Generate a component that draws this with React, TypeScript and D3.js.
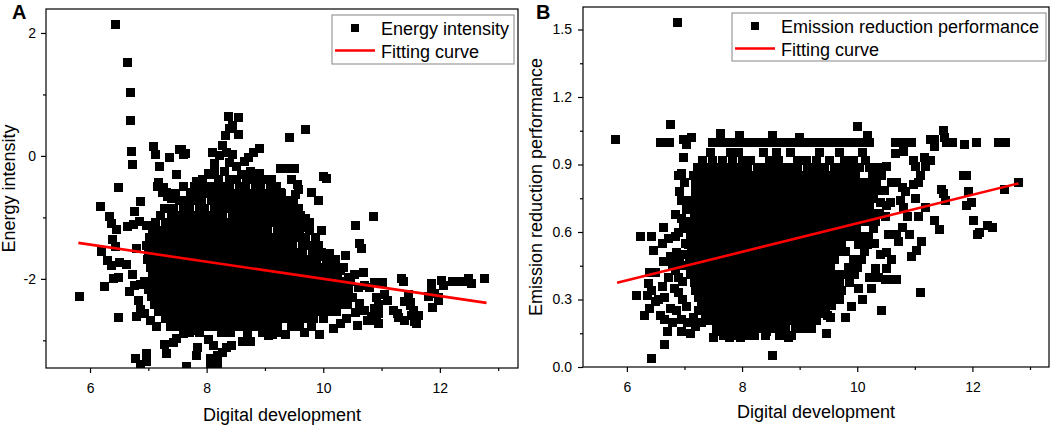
import React, { useEffect, useRef } from 'react';
import * as d3 from 'd3';

type Pt = [number, number];
type Row = [number, number[]];

const FONT = '"Liberation Sans", Arial, Helvetica, sans-serif';

// ---- Panel A: energy intensity ----
const energyScatter: Pt[] = [
 [6.43, 2.13], [6.65, 1.52], [6.7, 1.03], [6.69, 0.58], [6.71, 0.07], [6.73, -0.14], [6.48, -0.52], [6.18, -0.83], [6.86, -0.74], [6.76, -0.9],
 [6.34, -0.99], [6.36, -1.1], [6.46, -1.2], [6.65, -1.15], [6.74, -1.11], [6.85, -1.06], [6.97, -1.14], [6.39, -1.36], [6.43, -1.48], [6.2, -1.56],
 [6.3, -1.7], [6.37, -1.78], [6.51, -1.74], [6.63, -1.77], [6.41, -2.0], [6.49, -1.98], [6.24, -2.12], [5.82, -2.28], [6.48, -2.63], [6.68, -2.2],
 [6.76, -2.11], [6.86, -2.09], [6.93, -2.04], [6.72, -1.93], [6.8, -1.5], [6.83, -2.35], [6.86, -2.5], [6.79, -2.61], [6.94, -2.56], [7.03, -2.67],
 [7.14, -2.78], [6.78, -3.3], [6.97, -3.21], [6.97, -3.34], [6.87, -3.39], [7.31, -3.21], [7.66, -3.43], [7.84, -3.12], [7.83, -3.25], [8.07, -3.29],
 [8.18, -3.24], [8.19, -3.37], [8.07, -3.42], [7.49, -2.97], [7.6, -2.89], [7.74, -2.84], [8.04, -2.99], [8.12, -3.09], [8.27, -3.2], [8.42, -3.09],
 [8.62, -3.02], [8.76, -3.02], [8.34, -3.11], [9.13, -2.9], [9.06, -2.92], [9.36, -2.9], [9.67, -2.87], [9.94, -2.9], [7.27, -3.06], [7.44, -3.03],
 [10.59, -2.76], [10.92, -2.68], [10.95, -2.56], [11.29, -2.63], [11.4, -2.68], [11.6, -2.73], [11.63, -2.6], [11.54, -2.52], [11.49, -2.39], [11.34, -2.0],
 [11.37, -2.05], [11.86, -2.18], [11.8, -2.29], [11.88, -2.46], [11.97, -2.3], [11.86, -2.08], [12.03, -2.03], [12.06, -2.1], [12.22, -2.05], [12.31, -2.05],
 [12.39, -2.05], [12.49, -2.0], [12.54, -2.07], [12.77, -2.0], [10.86, -0.98], [10.56, -1.14], [10.63, -1.43], [10.65, -1.51], [10.38, -1.62], [10.69, -1.89],
 [9.7, 0.43], [9.42, 0.3], [10.01, -0.34], [10.05, -0.36], [9.79, -0.6], [9.92, -0.73], [9.97, -1.21], [9.37, -0.2], [9.26, -0.2], [9.5, -0.2],
 [9.45, -0.39], [9.55, -0.47], [9.58, -0.55], [9.52, -0.62], [9.27, -0.6], [9.43, -0.73], [9.39, -0.88], [9.7, -1.02], [9.76, -1.09], [9.65, -1.17],
 [9.91, -1.45], [9.86, -1.56], [9.93, -1.64], [10.11, -1.58], [10.09, -1.81], [10.2, -1.78], [10.29, -1.87], [10.43, -1.97], [10.6, -2.14], [10.71, -2.11],
 [10.79, -2.14], [10.88, -2.06], [11.02, -2.06], [10.91, -2.3], [10.94, -2.41], [10.88, -2.49], [10.82, -2.62], [10.76, -2.68], [10.95, -2.72], [11.05, -2.25],
 [11.11, -2.36], [11.2, -2.52], [11.28, -2.57], [11.46, -2.26], [11.4, -2.37], [11.49, -2.44], [11.52, -2.59], [11.57, -2.69], [11.91, -2.24], [11.97, -2.35],
 [10.5, -2.3], [10.62, -2.4], [10.55, -2.55], [10.4, -2.65], [10.3, -2.72], [10.18, -2.8], [10.7, -2.52],
 [8.91, 0.12], [8.8, 0.05], [8.71, -0.03], [8.65, -0.09], [8.52, -0.17], [8.38, 0.64], [8.54, 0.62], [8.45, 0.5], [8.55, 0.35], [8.39, 0.44],
 [8.32, 0.33], [8.27, 0.17], [8.34, 0.06], [8.45, 0.03], [8.4, -0.1], [8.22, 0.0], [8.1, 0.05], [8.13, -0.12], [8.04, -0.29], [8.14, -0.23],
 [8.3, -0.26], [8.6, -0.3], [8.75, -0.25], [8.9, -0.28], [7.54, 0.1], [7.63, 0.04], [7.48, -0.31], [7.37, -0.02], [7.2, -0.18], [7.09, 0.16],
 [7.12, 0.03], [7.15, -0.5], [7.24, -0.59], [7.33, -0.66], [7.4, -0.7], [7.6, -0.5], [7.72, -0.6], [7.82, -0.42], [7.88, -0.46], [8.08, -0.31],
 [7.18, -0.43], [7.26, -0.51], [7.31, -0.6], [7.57, 0.1], [7.61, 0.03],
];

// dense core, one row per value of energy intensity
const energyRows: Row[] = [
 [-0.38, [7.93, 8.21, 8.4, 8.52, 8.69, 8.8, 8.96, 9.11]],
 [-0.5, [7.61, 7.79, 8.01, 8.12, 8.28, 8.39, 8.56, 8.66, 8.83, 8.93, 9.09, 9.2]],
 [-0.61, [7.46, 7.81, 7.96, 8.07, 8.22, 8.34, 8.48, 8.59, 8.75, 8.85, 9.01, 9.11, 9.29]],
 [-0.73, [7.53, 7.67, 7.81, 7.92, 8.08, 8.18, 8.34, 8.45, 8.59, 8.7, 8.86, 8.96, 9.11, 9.23, 9.38, 9.49]],
 [-0.85, [7.28, 7.44, 7.61, 7.71, 7.87, 7.97, 8.13, 8.24, 8.38, 8.49, 8.64, 8.76, 8.9, 9.01, 9.16, 9.28, 9.44, 9.57]],
 [-0.97, [7.21, 7.39, 7.5, 7.65, 7.77, 7.91, 8.03, 8.17, 8.28, 8.44, 8.54, 8.69, 8.8, 8.96, 9.06, 9.21, 9.32, 9.48, 9.61]],
 [-1.09, [7.13, 7.29, 7.44, 7.55, 7.71, 7.81, 7.96, 8.08, 8.22, 8.33, 8.48, 8.59, 8.75, 8.85, 9.0, 9.11, 9.27, 9.38, 9.53, 9.66]],
 [-1.21, [7.07, 7.23, 7.38, 7.49, 7.64, 7.76, 7.91, 8.01, 8.16, 8.27, 8.43, 8.53, 8.68, 8.8, 8.94, 9.05, 9.21, 9.32, 9.47, 9.59, 9.77]],
 [-1.33, [7.02, 7.18, 7.3, 7.45, 7.57, 7.71, 7.83, 7.98, 8.09, 8.24, 8.35, 8.5, 8.61, 8.76, 8.87, 9.02, 9.13, 9.28, 9.4, 9.56, 9.69, 9.87]],
 [-1.45, [6.97, 7.12, 7.27, 7.39, 7.54, 7.65, 7.8, 7.91, 8.06, 8.17, 8.32, 8.44, 8.58, 8.7, 8.84, 8.96, 9.11, 9.22, 9.37, 9.48, 9.64, 9.78]],
 [-1.57, [7.0, 7.16, 7.28, 7.43, 7.55, 7.69, 7.82, 7.95, 8.07, 8.21, 8.33, 8.47, 8.6, 8.73, 8.86, 9.0, 9.12, 9.26, 9.39, 9.52, 9.65, 9.81, 9.97]],
 [-1.69, [6.98, 7.11, 7.26, 7.38, 7.53, 7.64, 7.79, 7.9, 8.05, 8.17, 8.31, 8.43, 8.58, 8.69, 8.84, 8.95, 9.1, 9.21, 9.36, 9.48, 9.62, 9.75, 9.89, 10.06, 10.21]],
 [-1.81, [7.03, 7.16, 7.31, 7.43, 7.58, 7.69, 7.84, 7.95, 8.1, 8.22, 8.36, 8.48, 8.62, 8.74, 8.88, 9.0, 9.14, 9.26, 9.4, 9.52, 9.66, 9.78, 9.93, 10.23, 10.35]],
 [-1.93, [7.08, 7.2, 7.35, 7.47, 7.61, 7.73, 7.87, 7.99, 8.13, 8.25, 8.39, 8.51, 8.65, 8.77, 8.91, 9.03, 9.17, 9.29, 9.43, 9.55, 9.69, 9.81, 9.96, 10.09, 10.25, 10.54]],
 [-2.05, [7.05, 7.19, 7.31, 7.46, 7.57, 7.72, 7.84, 7.98, 8.1, 8.24, 8.36, 8.5, 8.62, 8.76, 8.88, 9.02, 9.14, 9.28, 9.4, 9.54, 9.66, 9.8, 9.93, 10.07, 10.2, 10.34, 10.46]],
 [-2.17, [7.01, 7.15, 7.28, 7.42, 7.54, 7.68, 7.8, 7.94, 8.06, 8.2, 8.32, 8.46, 8.58, 8.72, 8.84, 8.98, 9.1, 9.24, 9.36, 9.5, 9.62, 9.76, 9.88, 10.02, 10.15, 10.29, 10.43]],
 [-2.29, [7.06, 7.2, 7.33, 7.47, 7.59, 7.73, 7.85, 7.99, 8.11, 8.25, 8.37, 8.51, 8.63, 8.77, 8.89, 9.03, 9.15, 9.29, 9.41, 9.55, 9.67, 9.81, 9.94, 10.08, 10.21, 10.36]],
 [-2.41, [7.11, 7.25, 7.38, 7.52, 7.64, 7.78, 7.9, 8.04, 8.16, 8.3, 8.42, 8.56, 8.68, 8.82, 8.94, 9.08, 9.2, 9.34, 9.46, 9.6, 9.72, 9.86, 9.99, 10.13, 10.27, 10.42]],
 [-2.53, [7.17, 7.31, 7.44, 7.58, 7.7, 7.84, 7.96, 8.1, 8.22, 8.36, 8.48, 8.62, 8.74, 8.88, 9.0, 9.14, 9.26, 9.4, 9.52, 9.66, 9.79, 9.93, 10.08, 10.23]],
 [-2.65, [7.29, 7.43, 7.56, 7.7, 7.82, 7.96, 8.08, 8.22, 8.34, 8.48, 8.6, 8.74, 8.86, 9.0, 9.13, 9.27, 9.41, 9.55, 9.7, 9.84, 10.0]],
 [-2.77, [7.38, 7.53, 7.68, 7.81, 7.95, 8.09, 8.23, 8.36, 8.5, 8.63, 8.78, 8.92, 9.07, 9.22, 9.45, 9.6, 9.8]],
 [-2.88, [7.7, 7.88, 8.26, 8.41, 8.7, 8.95, 9.2]],
];

const energyFit: Pt[] = [[5.8, -1.414], [12.8, -2.39]];
const energyXTicks = [6, 8, 10, 12];
const energyXMinor = [7, 9, 11, 13];
const energyYTicks = [-2, 0, 2];
const energyYMinor = [-3, -1, 1];

// ---- Panel B: emission reduction performance ----
const emissionScatter: Pt[] = [
 [6.88, 1.53], [5.81, 1.01], [6.76, 1.08], [6.58, 1.0], [6.74, 1.0], [6.98, 1.01], [7.13, 1.02], [7.03, 0.99], [6.98, 0.93], [6.9, 0.85],
 [6.95, 0.86], [7.2, 0.82], [7.19, 0.78], [6.94, 0.74], [7.1, 0.74], [7.03, 0.7], [6.95, 0.66], [6.64, 0.62], [6.23, 0.58], [6.42, 0.58],
 [6.47, 0.52], [6.61, 0.55], [6.72, 0.57], [6.84, 0.58], [6.64, 0.47], [6.75, 0.49], [6.87, 0.51], [6.4, 0.42], [6.38, 0.37], [6.35, 0.32],
 [6.17, 0.32], [6.43, 0.34], [6.49, 0.29], [6.4, 0.26], [6.3, 0.23], [6.65, 0.31], [6.75, 0.26], [6.87, 0.25], [6.66, 0.21], [6.7, 0.16],
 [6.95, 0.16], [7.1, 0.15], [6.66, 0.1], [6.42, 0.04], [8.52, 0.05], [7.5, 0.13], [7.62, 0.16], [7.79, 0.13], [7.97, 0.13], [8.2, 0.14],
 [8.43, 0.16], [8.66, 0.15], [8.81, 0.13], [8.95, 0.17], [9.1, 0.18], [9.2, 0.17], [9.47, 0.15], [9.48, 0.23], [9.54, 0.22], [10.42, 0.25],
 [11.09, 0.33], [6.9, 0.4], [7.0, 0.45], [6.96, 0.3], [7.02, 0.55],
 [6.98, 0.62], [6.9, 0.6], [7.0, 0.5], [6.92, 0.47], [6.85, 0.43], [6.97, 0.38], [6.82, 0.35], [6.9, 0.33], [7.03, 0.27], [6.95, 0.21],
 [7.05, 0.2], [7.15, 0.22], [7.2, 0.18], [7.3, 0.2], [7.25, 0.25], [6.8, 0.2], [6.85, 0.68], [6.92, 0.78], [7.0, 0.82], [6.8, 0.45],
 [6.72, 0.4], [6.62, 0.36], [6.55, 0.3], [6.58, 0.23], [6.5, 0.42],
 [10.51, 0.89], [10.66, 0.95], [10.8, 0.96], [10.95, 1.0], [10.78, 1.0], [10.66, 1.0], [10.98, 0.92], [11.01, 0.89], [11.16, 0.93], [11.19, 0.89],
 [11.28, 0.92], [11.28, 1.01], [11.34, 1.01], [11.34, 0.98], [11.49, 1.05], [11.52, 1.02], [11.55, 1.0], [11.66, 1.0], [11.87, 0.99], [12.07, 1.0],
 [12.45, 1.0], [12.58, 1.0], [11.84, 0.85], [11.9, 0.85], [11.93, 0.78], [11.9, 0.72], [11.99, 0.73], [12.02, 0.65], [12.08, 0.59], [12.13, 0.6],
 [12.26, 0.63], [12.35, 0.62], [12.55, 0.79], [12.8, 0.82], [11.47, 0.79], [11.5, 0.77], [11.53, 0.74], [11.35, 0.65], [11.43, 0.61], [11.12, 0.56],
 [11.03, 0.52], [10.95, 0.49], [11.19, 0.71], [11.07, 0.67], [11.01, 0.75], [10.98, 0.81], [11.1, 0.85], [11.07, 0.82], [10.84, 0.78], [10.75, 0.74],
 [10.81, 0.71], [10.87, 0.67], [10.78, 0.62], [10.9, 0.59], [10.69, 0.59], [10.72, 0.56], [10.51, 0.51], [10.6, 0.48], [10.51, 0.44], [10.37, 0.4],
 [10.49, 0.39], [10.63, 0.39], [10.69, 0.39], [10.25, 0.35], [10.22, 0.4], [10.31, 0.44], [10.02, 0.35], [10.55, 0.59], [10.49, 0.67], [10.4, 0.73],
 [10.57, 0.73], [10.6, 0.82], [10.69, 0.82], [10.78, 0.8], [10.4, 0.5], [10.3, 0.55], [10.1, 0.3], [9.9, 0.27], [9.8, 0.22], [9.7, 0.3],
 [7.62, 1.04], [8.52, 1.03], [10.0, 1.07], [10.18, 1.03], [9.0, 1.02], [7.95, 1.03],
];

const emissionRows: Row[] = [
 [1.0, [7.49, 7.62, 7.77, 7.9, 8.04, 8.17, 8.31, 8.45, 8.58, 8.72, 8.85, 8.99, 9.13, 9.26, 9.4, 9.53, 9.67, 9.82, 9.95, 10.08, 10.22]],
 [0.955, [7.45, 7.8, 7.93, 8.38, 8.6, 8.84, 9.34, 9.7, 10.1]],
 [0.92, [7.32, 7.48, 7.66, 7.83, 8.0, 8.14, 8.47, 8.63, 8.96, 9.12, 9.3, 9.52, 9.78, 9.94, 10.15]],
 [0.886, [7.22, 7.37, 7.52, 7.68, 7.81, 7.97, 8.1, 8.26, 8.39, 8.55, 8.68, 8.84, 8.97, 9.13, 9.27, 9.43, 9.6, 9.74, 9.9, 10.04, 10.21, 10.37]],
 [0.852, [7.16, 7.31, 7.45, 7.6, 7.73, 7.88, 8.01, 8.16, 8.29, 8.44, 8.57, 8.72, 8.85, 9.0, 9.13, 9.28, 9.41, 9.56, 9.69, 9.84, 9.97, 10.26, 10.43]],
 [0.818, [7.26, 7.4, 7.54, 7.68, 7.81, 7.96, 8.09, 8.24, 8.37, 8.52, 8.65, 8.8, 8.93, 9.08, 9.21, 9.36, 9.49, 9.64, 9.77, 9.92, 10.05, 10.2, 10.34]],
 [0.784, [7.25, 7.38, 7.53, 7.66, 7.81, 7.94, 8.09, 8.22, 8.37, 8.5, 8.65, 8.78, 8.93, 9.06, 9.21, 9.34, 9.49, 9.62, 9.77, 9.9, 10.05, 10.18, 10.33, 10.47]],
 [0.75, [7.2, 7.34, 7.48, 7.61, 7.76, 7.89, 8.04, 8.17, 8.32, 8.45, 8.6, 8.73, 8.88, 9.01, 9.16, 9.29, 9.44, 9.57, 9.72, 9.85, 10.0, 10.13, 10.28]],
 [0.716, [7.12, 7.27, 7.4, 7.55, 7.68, 7.83, 7.96, 8.11, 8.24, 8.39, 8.52, 8.67, 8.8, 8.95, 9.08, 9.23, 9.36, 9.51, 9.64, 9.79, 9.92, 10.07, 10.21, 10.5]],
 [0.682, [7.17, 7.3, 7.45, 7.58, 7.73, 7.86, 8.01, 8.14, 8.29, 8.42, 8.57, 8.7, 8.85, 8.98, 9.13, 9.26, 9.41, 9.54, 9.69, 9.82, 9.97, 10.1, 10.25, 10.39]],
 [0.648, [7.08, 7.22, 7.36, 7.5, 7.63, 7.78, 7.91, 8.06, 8.19, 8.34, 8.47, 8.62, 8.75, 8.9, 9.03, 9.18, 9.31, 9.46, 9.59, 9.74, 9.87, 10.02, 10.16, 10.31]],
 [0.614, [7.05, 7.19, 7.33, 7.47, 7.6, 7.75, 7.88, 8.03, 8.16, 8.31, 8.44, 8.59, 8.72, 8.87, 9.0, 9.15, 9.28, 9.43, 9.56, 9.71, 9.84, 9.99, 10.28]],
 [0.58, [7.1, 7.24, 7.38, 7.52, 7.65, 7.8, 7.93, 8.08, 8.21, 8.36, 8.49, 8.64, 8.77, 8.92, 9.05, 9.2, 9.33, 9.48, 9.61, 9.76, 9.9, 10.05, 10.2]],
 [0.546, [7.07, 7.21, 7.35, 7.49, 7.62, 7.77, 7.9, 8.05, 8.18, 8.33, 8.46, 8.61, 8.74, 8.89, 9.02, 9.17, 9.3, 9.45, 9.58, 9.73, 10.03, 10.17]],
 [0.512, [7.13, 7.27, 7.41, 7.55, 7.68, 7.83, 7.96, 8.11, 8.24, 8.39, 8.52, 8.67, 8.8, 8.95, 9.08, 9.23, 9.36, 9.51, 9.65, 9.8, 10.12]],
 [0.478, [7.09, 7.23, 7.37, 7.51, 7.64, 7.79, 7.92, 8.07, 8.2, 8.35, 8.48, 8.63, 8.76, 8.91, 9.04, 9.19, 9.32, 9.47, 9.61, 9.93, 10.08]],
 [0.444, [7.15, 7.29, 7.43, 7.57, 7.7, 7.85, 7.98, 8.13, 8.26, 8.41, 8.54, 8.69, 8.82, 8.97, 9.1, 9.25, 9.38, 9.53, 9.84, 10.0]],
 [0.41, [7.11, 7.25, 7.39, 7.53, 7.66, 7.81, 7.94, 8.09, 8.22, 8.37, 8.5, 8.65, 8.78, 8.93, 9.06, 9.21, 9.34, 9.49, 9.64, 9.8, 9.95]],
 [0.376, [7.17, 7.31, 7.45, 7.59, 7.72, 7.87, 8.0, 8.15, 8.28, 8.43, 8.56, 8.71, 8.84, 8.99, 9.12, 9.27, 9.4, 9.55, 9.7, 9.86]],
 [0.342, [7.2, 7.34, 7.48, 7.62, 7.75, 7.9, 8.03, 8.18, 8.31, 8.46, 8.59, 8.74, 8.87, 9.02, 9.15, 9.3, 9.43, 9.58, 9.72]],
 [0.308, [7.24, 7.38, 7.52, 7.66, 7.79, 7.94, 8.07, 8.22, 8.35, 8.5, 8.63, 8.78, 8.91, 9.06, 9.19, 9.34, 9.47, 9.62]],
 [0.274, [7.3, 7.44, 7.58, 7.72, 7.85, 8.0, 8.13, 8.28, 8.41, 8.56, 8.69, 8.84, 8.97, 9.12, 9.25, 9.4, 9.55]],
 [0.24, [7.36, 7.5, 7.64, 7.78, 7.91, 8.06, 8.19, 8.34, 8.47, 8.62, 8.75, 8.9, 9.03, 9.18, 9.32, 9.45]],
 [0.206, [7.45, 7.6, 7.74, 7.88, 8.01, 8.16, 8.29, 8.44, 8.57, 8.72, 8.85, 9.0, 9.14, 9.3]],
 [0.172, [7.55, 7.72, 7.86, 8.0, 8.14, 8.3, 8.44, 8.6, 8.76, 8.92, 9.08]],
 [0.14, [7.68, 7.9, 8.05, 8.22, 8.4, 8.65, 8.85]],
];

const emissionFit: Pt[] = [[5.83, 0.374], [12.8, 0.816]];
const emissionXTicks = [6, 8, 10, 12];
const emissionXMinor = [7, 9, 11, 13];
const emissionYTicks = [0, 0.3, 0.6, 0.9, 1.2, 1.5];
const emissionYMinor = [0.15, 0.45, 0.75, 1.05, 1.35];

const flatten = (scatter: Pt[], rows: Row[]): Pt[] =>
 scatter.concat(rows.flatMap(([y, xs]) => xs.map((x) => [x, y] as Pt)));

interface Panel {
 id: string;
 letter: string;
 letterPos: [number, number];
 box: { left: number; right: number; top: number; bottom: number };
 xDomain: [number, number];
 yDomain: [number, number];
 xTicks: number[];
 xMinor: number[];
 yTicks: number[];
 yMinor: number[];
 yFormat: (d: number) => string;
 yPadding: number;
 points: Pt[];
 fit: Pt[];
 xTitle: string;
 xTitlePos: [number, number];
 yTitle: string;
 yTitlePos: [number, number];
 legend: { x: number; y: number; w: number; h: number; label: string };
}

const panels: Panel[] = [
 {
 id: 'a', letter: 'A', letterPos: [12, 19],
 box: { left: 46, right: 518, top: 9, bottom: 368 },
 xDomain: [5.245, 13.34], yDomain: [-3.45, 2.39],
 xTicks: energyXTicks, xMinor: energyXMinor, yTicks: energyYTicks, yMinor: energyYMinor,
 yFormat: (d) => String(d), yPadding: 5,
 points: flatten(energyScatter, energyRows), fit: energyFit,
 xTitle: 'Digital development', xTitlePos: [282, 421],
 yTitle: 'Energy intensity', yTitlePos: [15, 188.5],
 legend: { x: 332, y: 15, w: 182, h: 49, label: 'Energy intensity' },
 },
 {
 id: 'b', letter: 'B', letterPos: [536, 19],
 box: { left: 583, right: 1049, top: 7, bottom: 367 },
 xDomain: [5.238, 13.33], yDomain: [0, 1.6],
 xTicks: emissionXTicks, xMinor: emissionXMinor, yTicks: emissionYTicks, yMinor: emissionYMinor,
 yFormat: d3.format('.1f'), yPadding: 6,
 points: flatten(emissionScatter, emissionRows), fit: emissionFit,
 xTitle: 'Digital development', xTitlePos: [816, 418],
 yTitle: 'Emission reduction performance', yTitlePos: [542, 187],
 legend: { x: 732, y: 13, w: 314, h: 48, label: 'Emission reduction performance' },
 },
];

function drawPanel(svg: d3.Selection<SVGSVGElement, unknown, null, undefined>, p: Panel) {
 const { left, right, top, bottom } = p.box;
 const x = d3.scaleLinear().domain(p.xDomain).range([left, right]);
 const y = d3.scaleLinear().domain(p.yDomain).range([bottom, top]);

 svg.append('clipPath').attr('id', `clip-${p.id}`)
 .append('rect').attr('x', left).attr('y', top).attr('width', right - left).attr('height', bottom - top);

 // Points (crisp edges so touching squares merge into a solid mass)
 const size = 9;
 svg.append('g').attr('clip-path', `url(#clip-${p.id})`).attr('shape-rendering', 'crispEdges')
 .selectAll('rect')
 .data(p.points)
 .enter()
 .append('rect')
 .attr('x', (d) => x(d[0]) - size / 2)
 .attr('y', (d) => y(d[1]) - size / 2)
 .attr('width', size)
 .attr('height', size)
 .attr('fill', '#000');

 // Fitting line
 const line = d3.line<Pt>().x((d) => x(d[0])).y((d) => y(d[1]));
 svg.append('path').attr('d', line(p.fit)).attr('fill', 'none').attr('stroke', '#ff0000').attr('stroke-width', 2.6);

 // Frame
 svg.append('rect').attr('x', left).attr('y', top).attr('width', right - left).attr('height', bottom - top)
 .attr('fill', 'none').attr('stroke', '#000').attr('stroke-width', 1.2);

 // Axes
 const style = (g: d3.Selection<SVGGElement, unknown, null, undefined>) => {
 g.select('.domain').remove();
 g.attr('font-size', 14).attr('font-family', FONT);
 g.selectAll('line').attr('stroke', '#000').attr('stroke-width', 1.2);
 g.selectAll('text').attr('fill', '#000');
 };
 svg.append('g').attr('transform', `translate(0,${bottom})`)
 .call(d3.axisBottom(x).tickValues(p.xTicks).tickSize(5).tickPadding(10).tickFormat((d) => String(d)))
 .call(style);
 svg.append('g').attr('transform', `translate(0,${bottom})`)
 .call(d3.axisBottom(x).tickValues(p.xMinor).tickSize(3).tickFormat(() => ''))
 .call(style);
 svg.append('g').attr('transform', `translate(${left},0)`)
 .call(d3.axisLeft(y).tickValues(p.yTicks).tickSize(5).tickPadding(p.yPadding).tickFormat((d) => p.yFormat(d as number)))
 .call(style);
 svg.append('g').attr('transform', `translate(${left},0)`)
 .call(d3.axisLeft(y).tickValues(p.yMinor).tickSize(3).tickFormat(() => ''))
 .call(style);

 // Titles
 svg.append('text').attr('x', p.xTitlePos[0]).attr('y', p.xTitlePos[1]).attr('text-anchor', 'middle')
 .attr('font-family', FONT).attr('font-size', 18).text(p.xTitle);
 svg.append('text').attr('transform', `translate(${p.yTitlePos[0]},${p.yTitlePos[1]}) rotate(-90)`)
 .attr('text-anchor', 'middle').attr('font-family', FONT).attr('font-size', 18).text(p.yTitle);
 svg.append('text').attr('x', p.letterPos[0]).attr('y', p.letterPos[1])
 .attr('font-family', FONT).attr('font-size', 20).attr('font-weight', 'bold').text(p.letter);

 // Legend
 const lg = p.legend;
 svg.append('rect').attr('x', lg.x).attr('y', lg.y).attr('width', lg.w).attr('height', lg.h)
 .attr('fill', '#fff').attr('stroke', '#999').attr('stroke-width', 1.2);
 svg.append('rect').attr('x', lg.x + 23 - 4).attr('y', lg.y + 13 - 4).attr('width', 8).attr('height', 8).attr('fill', '#000');
 svg.append('text').attr('x', lg.x + 49).attr('y', lg.y + 19.5).attr('font-family', FONT).attr('font-size', 18).text(lg.label);
 svg.append('line').attr('x1', lg.x + 3).attr('x2', lg.x + 43).attr('y1', lg.y + 35.5).attr('y2', lg.y + 35.5)
 .attr('stroke', '#ff0000').attr('stroke-width', 2.6);
 svg.append('text').attr('x', lg.x + 49).attr('y', lg.y + 42.5).attr('font-family', FONT).attr('font-size', 18).text('Fitting curve');
}

export default function App() {
 const svgRef = useRef<SVGSVGElement>(null);

 useEffect(() => {
 if (!svgRef.current) return;
 const svg = d3.select(svgRef.current);
 svg.selectAll('*').remove();
 panels.forEach((p) => drawPanel(svg, p));
 }, []);

 return (
 <svg
 ref={svgRef}
 width={1052}
 height={426}
 viewBox="0 0 1052 426"
 style={{ position: 'absolute', left: 0, top: 0, background: '#fff' }}
 />
 );
}
